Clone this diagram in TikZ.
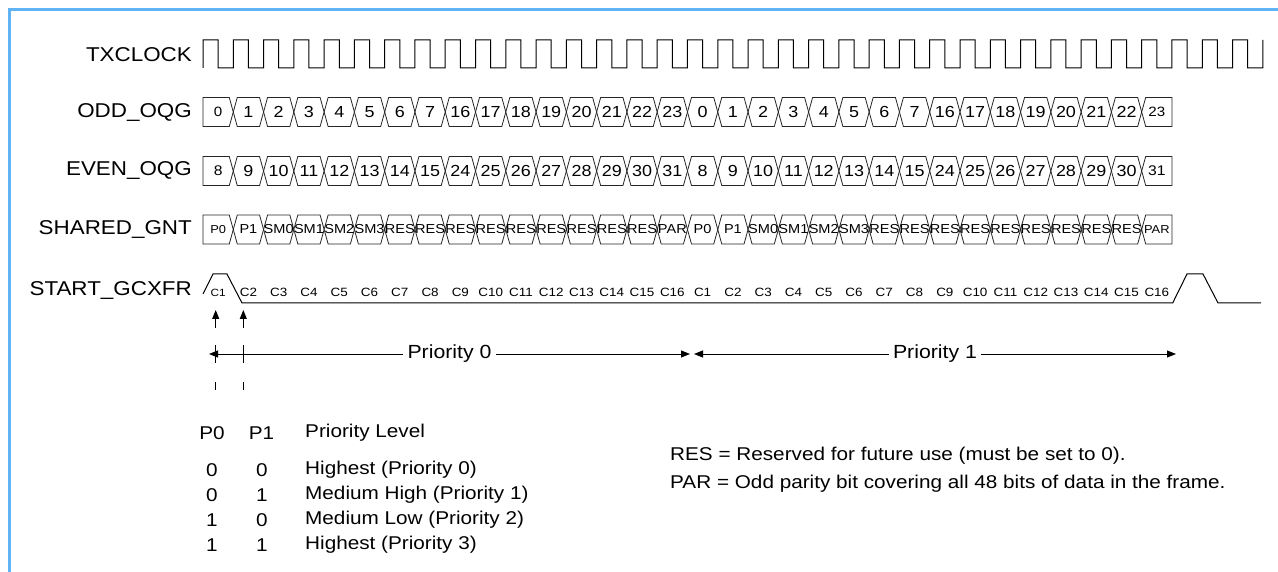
\documentclass[tikz,border=0pt]{standalone}
\usepackage{fontspec}
\setmainfont{Liberation Sans}[FakeStretch=1.12]
\usetikzlibrary{arrows.meta}
\definecolor{bord}{RGB}{96,180,246}
\tikzset{
  sig/.style={line width=1pt, line join=miter},
  bus/.style={line width=0.8pt, draw=black!85},
  lbl/.style={font=\fontsize{20}{24}\selectfont, inner sep=0, anchor=east},
  tbl/.style={font=\fontsize{18.5}{22}\selectfont, inner sep=0},
  arr/.style={line width=1pt, -{Triangle[length=9pt,width=7pt]}},
  darr/.style={line width=1pt, {Triangle[length=9pt,width=7pt]}-{Triangle[length=9pt,width=7pt]}},
}
% #1 name, #2 y centre, #3 normal font size, #4 edge font size, #5 list
\newcommand\busrow[5]{%
  \foreach \lab [count=\ii from 0] in {#5} {
    \pgfmathsetmacro\xa{203+\ii*30.28}
    \pgfmathsetmacro\xb{\xa+30.28}
    \pgfmathsetmacro\xc{\xa+15.14}
    \ifnum\ii=0
      \draw[bus] (\xa,#2-14.5) -- (\xb-4,#2-14.5) -- (\xb,#2) -- (\xb-4,#2+14.5) -- (\xa,#2+14.5) -- cycle;
      \node[inner sep=0,font=\fontsize{#4}{#4}\selectfont] (#1-\ii) at (\xc,#2) {\lab};
    \else\ifnum\ii=31
      \draw[bus] (\xa,#2) -- (\xa+4,#2-14.5) -- (\xb,#2-14.5) -- (\xb,#2+14.5) -- (\xa+4,#2+14.5) -- cycle;
      \node[inner sep=0,font=\fontsize{#4}{#4}\selectfont] (#1-\ii) at (\xc,#2) {\lab};
    \else
      \draw[bus] (\xa,#2) -- (\xa+4,#2-14.5) -- (\xb-4,#2-14.5) -- (\xb,#2) -- (\xb-4,#2+14.5) -- (\xa+4,#2+14.5) -- cycle;
      \node[inner sep=0,font=\fontsize{#3}{#3}\selectfont] (#1-\ii) at (\xc,#2) {\lab};
    \fi\fi
  }%
}
\begin{document}
\begin{tikzpicture}[x=1pt,y=-1pt]
\useasboundingbox (0,0) rectangle (1278,572);
\fill[white] (0,0) rectangle (1278,572);
% frame
\draw[bord, line width=2.3pt] (9.5,572) -- (9.5,9.5) -- (1278,9.5);

% labels
\node[lbl] (l-clk) at (192,55) {TXCLOCK};
\node[lbl] (l-odd) at (192,112.5) {ODD\_OQG};
\node[lbl] (l-even) at (192,171) {EVEN\_OQG};
\node[lbl] (l-gnt) at (192,230) {SHARED\_GNT};
\node[lbl] (l-start) at (192,291) {START\_GCXFR};

% clock
\draw[sig] (203,68) \foreach \k in {0,...,34} {
  -- ({203+\k*30.28},40) -- ({203+\k*30.28+15.14},40)
  -- ({203+\k*30.28+15.14},68) -- ({203+(\k+1)*30.28},68) } -- (1262.8,40);

% buses
\busrow{odd}{112}{16}{13.5}{0,1,2,3,4,5,6,7,16,17,18,19,20,21,22,23,0,1,2,3,4,5,6,7,16,17,18,19,20,21,22,23}
\busrow{even}{171}{16}{14}{8,9,10,11,12,13,14,15,24,25,26,27,28,29,30,31,8,9,10,11,12,13,14,15,24,25,26,27,28,29,30,31}
\busrow{gnt}{229.5}{13}{11.5}{P0,P1,SM0,SM1,SM2,SM3,RES,RES,RES,RES,RES,RES,RES,RES,RES,PAR,P0,P1,SM0,SM1,SM2,SM3,RES,RES,RES,RES,RES,RES,RES,RES,RES,PAR}

% START_GCXFR
\draw[sig] (203,294) -- (213,274) -- (227,274) -- (242,303) -- (1172.7,303)
  -- (1187,274) -- (1203,274) -- (1218,303) -- (1261,303);
\foreach \lab [count=\ii from 0] in {C1,C2,C3,C4,C5,C6,C7,C8,C9,C10,C11,C12,C13,C14,C15,C16,C1,C2,C3,C4,C5,C6,C7,C8,C9,C10,C11,C12,C13,C14,C15,C16} {
  \ifnum\ii=0
    \node[inner sep=0,font=\fontsize{10.5}{11}\selectfont] (c-\ii) at ({203+\ii*30.28+15.14},292.5) {\lab};
  \else
    \node[inner sep=0,font=\fontsize{12}{12}\selectfont] (c-\ii) at ({203+\ii*30.28+15.14},292.5) {\lab};
  \fi
}

% marker arrows
\coordinate (a1b) at (215.7,328); \coordinate (a1t) at (215.7,310);
\coordinate (a2b) at (243.3,328); \coordinate (a2t) at (243.3,310);
\draw[arr] (a1b) -- (a1t);
\draw[arr] (a2b) -- (a2t);
\foreach \xx in {215.7,243.3} {
  \draw[line width=1pt] (\xx,345) -- (\xx,363);
  \draw[line width=1pt] (\xx,382) -- (\xx,390);
}

% priority spans
\coordinate (p0s) at (209,354); \coordinate (p0e) at (690,354);
\coordinate (p1s) at (694,354); \coordinate (p1e) at (1176,354);
\draw[darr] (p0s) -- (p0e) node[midway, fill=white, inner xsep=4.5pt, inner ysep=1pt, font=\fontsize{19}{22}\selectfont] (p0t) {Priority 0};
\draw[darr] (p1s) -- (p1e) node[midway, fill=white, inner xsep=4.5pt, inner ysep=1pt, font=\fontsize{19}{22}\selectfont] (p1t) {Priority 1};

% table
\node[tbl] (h1) at (212,433) {P0};
\node[tbl] (h2) at (261.5,433) {P1};
\node[tbl, anchor=west] (h3) at (305,433) {Priority Level};
\node[tbl] (r1a) at (212,470) {0};
\node[tbl] (r1b) at (262,470) {0};
\node[tbl, anchor=west] (r1c) at (305,470) {Highest (Priority 0)};
\node[tbl] (r2a) at (212,495) {0};
\node[tbl] (r2b) at (262,495) {1};
\node[tbl, anchor=west] (r2c) at (305,495) {Medium High (Priority 1)};
\node[tbl] (r3a) at (212,520) {1};
\node[tbl] (r3b) at (262,520) {0};
\node[tbl, anchor=west] (r3c) at (305,520) {Medium Low (Priority 2)};
\node[tbl] (r4a) at (212,545) {1};
\node[tbl] (r4b) at (262,545) {1};
\node[tbl, anchor=west] (r4c) at (305,545) {Highest (Priority 3)};

% notes
\node[tbl, anchor=west] (n1) at (670,456) {RES = Reserved for future use (must be set to 0).};
\node[tbl, anchor=west] (n2) at (670,484) {PAR = Odd parity bit covering all 48 bits of data in the frame.};
\end{tikzpicture}
\end{document}
